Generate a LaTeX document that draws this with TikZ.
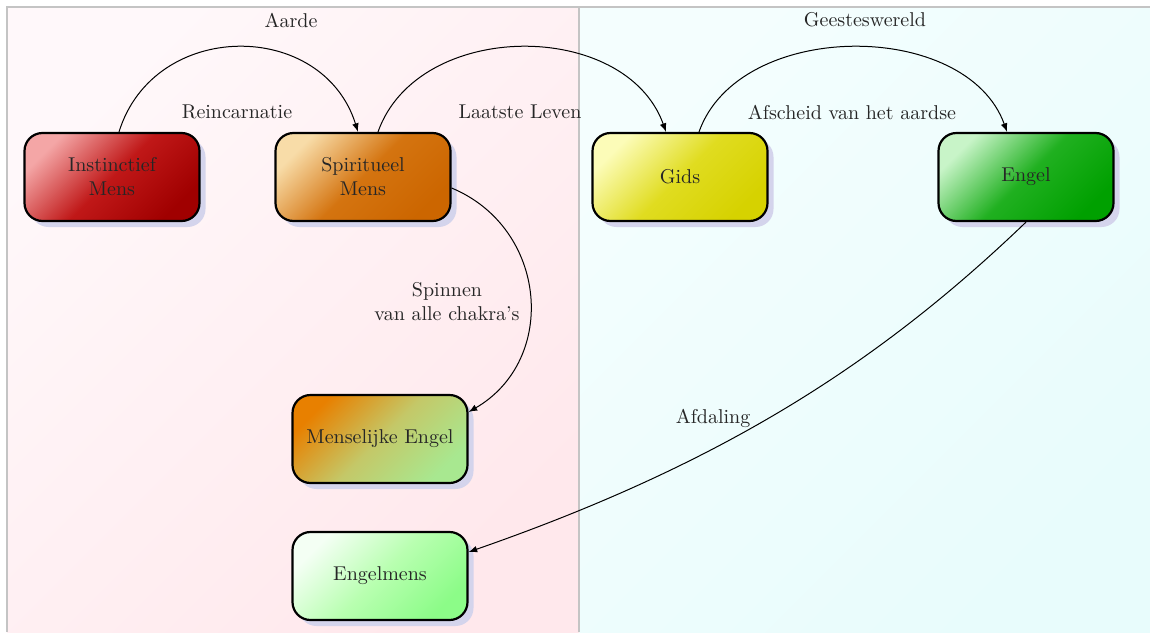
\documentclass[tikz,border=0pt]{standalone}
\usetikzlibrary{shadows,calc}
\definecolor{shadowc}{HTML}{D4D4EC}
\definecolor{framec}{HTML}{C4C4C4}
\definecolor{pinkA}{HTML}{FFF8FA}
\definecolor{pinkB}{HTML}{FFE8EC}
\definecolor{cyanA}{HTML}{F4FEFE}
\definecolor{cyanB}{HTML}{E8FCFC}
\definecolor{redL}{HTML}{F4A6A6}
\definecolor{redM}{HTML}{C01818}
\definecolor{redD}{HTML}{A00000}
\definecolor{orL}{HTML}{F8DCA8}
\definecolor{orM}{HTML}{D47410}
\definecolor{orD}{HTML}{CC6600}
\definecolor{yeL}{HTML}{FCFCB8}
\definecolor{yeM}{HTML}{E0DC20}
\definecolor{yeD}{HTML}{D6D200}
\definecolor{grL}{HTML}{C8F4C8}
\definecolor{grM}{HTML}{20B020}
\definecolor{grD}{HTML}{00A000}
\definecolor{meL}{HTML}{E88000}
\definecolor{meM}{HTML}{C4C868}
\definecolor{meD}{HTML}{A8E890}
\definecolor{emL}{HTML}{F4FFF4}
\definecolor{emM}{HTML}{B8FFB0}
\definecolor{emD}{HTML}{8CFC88}
\begin{document}
\begin{tikzpicture}[x=0.5pt,y=-0.5pt,
  box/.style={draw=black, line width=1.1pt, rounded corners=9pt,
    minimum width=87.5pt, minimum height=44pt, align=center, text=black!85,
    drop shadow={shadow xshift=3pt, shadow yshift=-3pt, fill=shadowc, opacity=1, draw=none}},
  grad/.style n args={3}{top color=#1, bottom color=#3, middle color=#2, shading angle=45},
  lbl/.style={text=black!85, align=center, inner sep=1pt},
  conn/.style={->, >=latex, line width=0.5pt}]
\useasboundingbox (0,0) rectangle (1150,632);
% backgrounds
\shade[top color=pinkA, bottom color=pinkB, shading angle=45] (7,7) rectangle (579,632);
\shade[top color=cyanA, bottom color=cyanB, shading angle=45] (579,7) rectangle (1152,632);
\draw[framec, line width=1pt] (7,632) -- (7,7) -- (1152,7);
\draw[framec, line width=1pt] (579,7) -- (579,632);
% region titles
\node[lbl] (aarde) at (291,20) {Aarde};
\node[lbl] (geest) at (865,20) {Geesteswereld};
% nodes
\node[box, grad={redL}{redM}{redD}] (im) at (112,177) {Instinctief\\Mens};
\node[box, grad={orL}{orM}{orD}] (sm) at (363,177) {Spiritueel\\Mens};
\node[box, grad={yeL}{yeM}{yeD}] (gi) at (680,177) {Gids};
\node[box, grad={grL}{grM}{grD}] (en) at (1026,177) {Engel};
\node[box, grad={meL}{meM}{meD}] (me) at (380,439) {Menselijke Engel};
\node[box, grad={emL}{emM}{emD}] (eg) at (380,576) {Engelmens};
% connectors
\draw[conn] ([xshift=3.5pt]im.north) .. controls +(35,-113) and +(-35,-113) .. ([xshift=-2.5pt]sm.north);
\draw[conn] ([xshift=7.5pt]sm.north) .. controls +(40,-113) and +(-40,-113) .. ([xshift=-7pt]gi.north);
\draw[conn] ([xshift=9.5pt]gi.north) .. controls +(40,-113) and +(-40,-113) .. ([xshift=-9.5pt]en.north);
\draw[conn] ([yshift=-5.5pt]sm.east) .. controls +(96,40) and +(90,-52) .. ([yshift=13.5pt]me.east);
\draw[conn] (en.south) .. controls +(-150,144) and +(250,-87) .. ([yshift=12pt]eg.east);
% labels
\node[lbl] (l1) at (237,112) {Reincarnatie};
\node[lbl] (l2) at (520,112) {Laatste Leven};
\node[lbl] (l3) at (852,112) {Afscheid van het aardse};
\node[lbl] (l4) at (447,302) {Spinnen\\van alle chakra’s};
\node[lbl] (l5) at (713,418) {Afdaling};
\end{tikzpicture}
\end{document}
